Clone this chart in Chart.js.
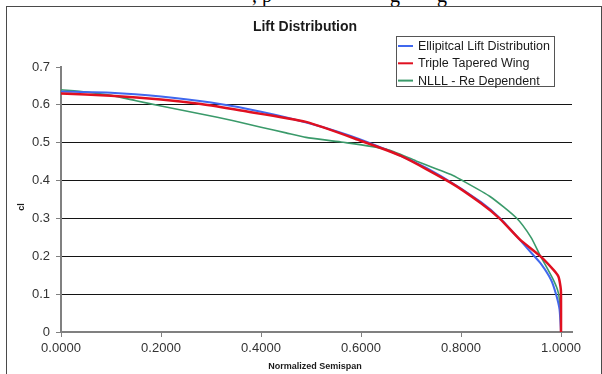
<!DOCTYPE html>
<html>
<head>
<meta charset="utf-8">
<script src="https://cdn.jsdelivr.net/npm/chart.js@4/dist/chart.umd.min.js"></script>
<style>
    html, body { margin: 0; padding: 0; background: #fff; overflow: hidden; }
    #wrap { position: relative; width: 602px; height: 374px; }
    #frame { position: absolute; left: 6px; top: 6px; width: 594px; height: 380px; border: 1px solid #4a4a4a; }
    .cut { position: absolute; top: -15px; font: 20px "Liberation Serif", serif; line-height: 20px; color: #000; }
    canvas { position: absolute; left: 0; top: 0; }
</style>
</head>
<body>
<div id="wrap">
    <span class="cut" style="left:252px">, p</span>
    <span class="cut" style="left:390px">g</span>
    <span class="cut" style="left:437px">g</span>
    <div id="frame"></div>
    <canvas id="liftChart" width="602" height="374"></canvas>
</div>
<script>
// --- Data ---
const seriesLabels = ['Ellipitcal Lift Distribution', 'Triple Tapered Wing', 'NLLL - Re Dependent'];

const ellipX = [0, 0.1, 0.2, 0.3, 0.4, 0.5, 0.6, 0.7, 0.76, 0.84, 0.88, 0.92, 0.94, 0.96, 0.98, 0.99, 0.997, 1.0];
const ellipY = [0.635, 0.632, 0.622, 0.606, 0.582, 0.550, 0.508, 0.453, 0.412, 0.343, 0.298, 0.240, 0.210, 0.180, 0.138, 0.100, 0.060, 0];

const taperX = [0, 0.1, 0.2, 0.28, 0.36, 0.49, 0.6, 0.68, 0.78, 0.84, 0.878, 0.918, 0.958, 0.985, 0.995, 0.999, 1.0, 1.0];
const taperY = [0.630, 0.624, 0.614, 0.602, 0.585, 0.555, 0.505, 0.465, 0.394, 0.340, 0.299, 0.244, 0.201, 0.164, 0.146, 0.120, 0.102, 0];

const nlllX = [0, 0.05, 0.1, 0.15, 0.2, 0.28, 0.345, 0.4, 0.45, 0.49, 0.56, 0.65, 0.71, 0.78, 0.8, 0.858, 0.911, 0.94, 0.958, 0.985, 0.995, 0.999, 1.0];
const nlllY = [0.640, 0.634, 0.625, 0.611, 0.597, 0.576, 0.558, 0.541, 0.526, 0.514, 0.502, 0.483, 0.452, 0.416, 0.402, 0.358, 0.301, 0.250, 0.203, 0.137, 0.102, 0.049, 0];

const xTicks = [0, 0.2, 0.4, 0.6, 0.8, 1.0];
const yTicks = [0, 0.1, 0.2, 0.3, 0.4, 0.5, 0.6, 0.7];

const colors = {
    blue: '#4068ee',
    red: '#e01020',
    green: '#3a9a6a',
    grid: '#141414',
    axis: '#808080',
    text: '#333333',
};

const toPoints = (xs, ys) => xs.map((x, i) => ({ x, y: ys[i] }));

// --- Plugin: title, axis titles, legend box ---
const decorations = {
    id: 'decorations',
    afterDraw(chart) {
        const ctx = chart.ctx;
        ctx.save();
        ctx.fillStyle = '#1a1a1a';
        ctx.textBaseline = 'middle';

        ctx.font = 'bold 14px "Liberation Sans", Arial, sans-serif';
        ctx.textAlign = 'center';
        ctx.fillText('Lift Distribution', 305, 27);

        ctx.font = 'bold 9px "Liberation Sans", Arial, sans-serif';
        ctx.fillText('Normalized Semispan', 315, 367);

        ctx.save();
        ctx.translate(22, 207);
        ctx.rotate(-Math.PI / 2);
        ctx.fillText('cl', 0, 0);
        ctx.restore();

        // legend
        ctx.strokeStyle = '#555';
        ctx.lineWidth = 1;
        ctx.strokeRect(396.5, 36.5, 158, 50);
        const legendColors = [colors.blue, colors.red, colors.green];
        ctx.font = '12.5px "Liberation Sans", Arial, sans-serif';
        ctx.textAlign = 'left';
        seriesLabels.forEach((lbl, i) => {
            const y = 46 + i * 17.3;
            ctx.strokeStyle = legendColors[i];
            ctx.lineWidth = 2;
            ctx.beginPath();
            ctx.moveTo(398, y);
            ctx.lineTo(413, y);
            ctx.stroke();
            ctx.fillStyle = '#1a1a1a';
            ctx.fillText(lbl, 418, y + 0.5);
        });
        ctx.restore();
    },
};

const lineStyle = { showLine: true, pointRadius: 0, fill: false, tension: 0.2 };

new Chart(document.getElementById('liftChart'), {
    type: 'scatter',
    data: {
        datasets: [
            { ...lineStyle, label: seriesLabels[0], data: toPoints(ellipX, ellipY), borderColor: colors.blue, borderWidth: 2, order: 1 },
            { ...lineStyle, label: seriesLabels[1], data: toPoints(taperX, taperY), borderColor: colors.red, borderWidth: 2.5, order: 0 },
            { ...lineStyle, label: seriesLabels[2], data: toPoints(nlllX, nlllY), borderColor: colors.green, borderWidth: 1.6, order: 2 },
        ],
    },
    options: {
        responsive: false,
        animation: false,
        layout: { padding: { left: 0, top: 67, right: 30, bottom: 0 } },
        plugins: {
            legend: { display: false },
            title: { display: false },
            tooltip: { enabled: false },
        },
        scales: {
            x: {
                type: 'linear',
                min: 0,
                max: 1.022,
                afterBuildTicks: s => { s.ticks = xTicks.map(v => ({ value: v })); },
                afterFit: s => { s.height = 42; },
                border: { color: colors.axis, width: 2 },
                grid: { drawOnChartArea: false, drawTicks: true, tickLength: 5, tickColor: colors.axis },
                ticks: {
                    color: colors.text,
                    padding: 4,
                    font: { family: '"Liberation Sans", Arial, sans-serif', size: 13 },
                    callback: v => Number(v).toFixed(4),
                },
            },
            y: {
                type: 'linear',
                min: 0,
                max: 0.7,
                afterBuildTicks: s => { s.ticks = yTicks.map(v => ({ value: v })); },
                afterFit: s => { s.width = 61; },
                border: { color: colors.axis, width: 2 },
                grid: {
                    color: c => (c.tick && (c.tick.value === 0 || c.tick.value === 0.7)) ? 'rgba(0,0,0,0)' : colors.grid,
                    lineWidth: 1,
                    tickLength: 5,
                    tickColor: colors.axis,
                },
                ticks: {
                    color: colors.text,
                    padding: 6,
                    font: { family: '"Liberation Sans", Arial, sans-serif', size: 13 },
                    callback: v => v === 0 ? '0' : Number(v).toFixed(1),
                },
            },
        },
    },
    plugins: [decorations],
});
</script>
</body>
</html>
